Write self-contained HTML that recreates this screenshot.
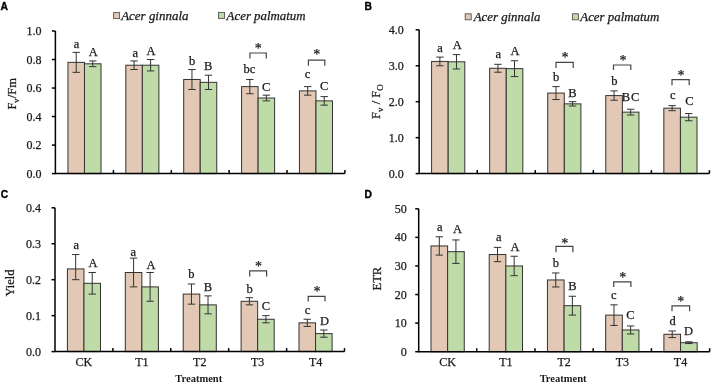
<!DOCTYPE html>
<html><head><meta charset="utf-8"><title>Chlorophyll fluorescence parameters</title>
<style>
html,body{margin:0;padding:0;background:#fff;}
body{width:712px;height:384px;overflow:hidden;}
svg{display:block;will-change:transform;}
text{font-family:"Liberation Serif", serif;fill:#1a1a1a;stroke:#1a1a1a;stroke-width:0.25px;}
.tk{font-size:12px;}
.lt{font-size:12.5px;}
.st{font-size:14px;}
.yl{font-size:12.5px;}
.sub{font-size:9px;}
.xl{font-size:10.5px;font-weight:bold;stroke-width:0;}
.lg{font-size:11.5px;font-style:italic;}
.pl{font-family:"Liberation Sans", sans-serif;font-weight:bold;font-size:10.3px;fill:#000;stroke:#000;stroke-width:0.35px;}
</style></head>
<body>
<svg width="712" height="384" viewBox="0 0 712 384">
<rect x="67.95" y="62.37" width="16.53" height="111.23" fill="#E2C8B5" stroke="#333" stroke-width="1"/>
<rect x="84.48" y="63.8" width="16.53" height="109.8" fill="#BEDBA8" stroke="#333" stroke-width="1"/>
<path d="M76.22 52.39V72.35M72.52 52.39H79.92M72.52 72.35H79.92" stroke="#333" stroke-width="1" fill="none"/>
<path d="M92.75 60.95V66.65M89.05 60.95H96.45M89.05 66.65H96.45" stroke="#333" stroke-width="1" fill="none"/>
<rect x="125.82" y="65.22" width="16.53" height="108.38" fill="#E2C8B5" stroke="#333" stroke-width="1"/>
<rect x="142.35" y="65.22" width="16.53" height="108.38" fill="#BEDBA8" stroke="#333" stroke-width="1"/>
<path d="M134.09 60.95V69.5M130.39 60.95H137.79M130.39 69.5H137.79" stroke="#333" stroke-width="1" fill="none"/>
<path d="M150.62 59.52V70.93M146.92 59.52H154.32M146.92 70.93H154.32" stroke="#333" stroke-width="1" fill="none"/>
<rect x="183.69" y="79.48" width="16.53" height="94.12" fill="#E2C8B5" stroke="#333" stroke-width="1"/>
<rect x="200.22" y="82.34" width="16.53" height="91.26" fill="#BEDBA8" stroke="#333" stroke-width="1"/>
<path d="M191.96 69.5V89.47M188.26 69.5H195.66M188.26 89.47H195.66" stroke="#333" stroke-width="1" fill="none"/>
<path d="M208.49 75.21V89.47M204.79 75.21H212.19M204.79 89.47H212.19" stroke="#333" stroke-width="1" fill="none"/>
<rect x="241.56" y="86.61" width="16.53" height="86.99" fill="#E2C8B5" stroke="#333" stroke-width="1"/>
<rect x="258.09" y="98.02" width="16.53" height="75.58" fill="#BEDBA8" stroke="#333" stroke-width="1"/>
<path d="M249.83 79.48V93.74M246.13 79.48H253.53M246.13 93.74H253.53" stroke="#333" stroke-width="1" fill="none"/>
<path d="M266.36 95.17V100.87M262.66 95.17H270.06M262.66 100.87H270.06" stroke="#333" stroke-width="1" fill="none"/>
<rect x="299.43" y="90.89" width="16.53" height="82.71" fill="#E2C8B5" stroke="#333" stroke-width="1"/>
<rect x="315.96" y="100.87" width="16.53" height="72.73" fill="#BEDBA8" stroke="#333" stroke-width="1"/>
<path d="M307.7 86.61V95.17M304 86.61H311.4M304 95.17H311.4" stroke="#333" stroke-width="1" fill="none"/>
<path d="M324.23 96.6V105.15M320.53 96.6H327.93M320.53 105.15H327.93" stroke="#333" stroke-width="1" fill="none"/>
<path d="M55.4 31V173.6H344.9" stroke="#000" stroke-width="1.5" fill="none"/>
<path d="M51.9 173.6H55.4" stroke="#000" stroke-width="1.5"/>
<text x="41.4" y="177.6" text-anchor="end" class="tk">0.0</text>
<path d="M51.9 145.08H55.4" stroke="#000" stroke-width="1.5"/>
<text x="41.4" y="149.08" text-anchor="end" class="tk">0.2</text>
<path d="M51.9 116.56H55.4" stroke="#000" stroke-width="1.5"/>
<text x="41.4" y="120.56" text-anchor="end" class="tk">0.4</text>
<path d="M51.9 88.04H55.4" stroke="#000" stroke-width="1.5"/>
<text x="41.4" y="92.04" text-anchor="end" class="tk">0.6</text>
<path d="M51.9 59.52H55.4" stroke="#000" stroke-width="1.5"/>
<text x="41.4" y="63.52" text-anchor="end" class="tk">0.8</text>
<path d="M51.9 31H55.4" stroke="#000" stroke-width="1.5"/>
<text x="41.4" y="35" text-anchor="end" class="tk">1.0</text>
<path d="M113.42 170.1V173.6" stroke="#000" stroke-width="1.5"/>
<path d="M171.29 170.1V173.6" stroke="#000" stroke-width="1.5"/>
<path d="M229.16 170.1V173.6" stroke="#000" stroke-width="1.5"/>
<path d="M287.03 170.1V173.6" stroke="#000" stroke-width="1.5"/>
<path d="M344.9 170.1V173.6" stroke="#000" stroke-width="1.5"/>
<text x="76.6" y="47.7" text-anchor="middle" class="lt">a</text>
<text x="93.35" y="55.5" text-anchor="middle" class="lt">A</text>
<text x="135.3" y="56.8" text-anchor="middle" class="lt">a</text>
<text x="151" y="54.8" text-anchor="middle" class="lt">A</text>
<text x="192.1" y="64.7" text-anchor="middle" class="lt">b</text>
<text x="208.2" y="69.9" text-anchor="middle" class="lt">B</text>
<text x="249.5" y="72.9" text-anchor="middle" class="lt">bc</text>
<text x="266.1" y="90.8" text-anchor="middle" class="lt">C</text>
<text x="307.6" y="78.4" text-anchor="middle" class="lt">c</text>
<text x="324.1" y="90.2" text-anchor="middle" class="lt">C</text>
<path d="M249.9 58.6V53H266.3V58.6" stroke="#444" stroke-width="1.2" fill="none"/>
<text x="258.3" y="52.5" text-anchor="middle" class="st">*</text>
<path d="M308.4 65.8V60.2H324.8V65.8" stroke="#444" stroke-width="1.2" fill="none"/>
<text x="316.8" y="59.3" text-anchor="middle" class="st">*</text>
<rect x="431.59" y="61.44" width="16.59" height="112.16" fill="#E2C8B5" stroke="#333" stroke-width="1"/>
<rect x="448.18" y="61.8" width="16.59" height="111.8" fill="#BEDBA8" stroke="#333" stroke-width="1"/>
<path d="M439.89 57.12V65.75M436.19 57.12H443.59M436.19 65.75H443.59" stroke="#333" stroke-width="1" fill="none"/>
<path d="M456.47 54.61V68.99M452.77 54.61H460.17M452.77 68.99H460.17" stroke="#333" stroke-width="1" fill="none"/>
<rect x="489.65" y="68.27" width="16.59" height="105.33" fill="#E2C8B5" stroke="#333" stroke-width="1"/>
<rect x="506.24" y="68.63" width="16.59" height="104.97" fill="#BEDBA8" stroke="#333" stroke-width="1"/>
<path d="M497.95 64.31V72.22M494.25 64.31H501.65M494.25 72.22H501.65" stroke="#333" stroke-width="1" fill="none"/>
<path d="M514.53 60.72V76.54M510.83 60.72H518.23M510.83 76.54H518.23" stroke="#333" stroke-width="1" fill="none"/>
<rect x="547.71" y="93.07" width="16.59" height="80.53" fill="#E2C8B5" stroke="#333" stroke-width="1"/>
<rect x="564.3" y="103.86" width="16.59" height="69.74" fill="#BEDBA8" stroke="#333" stroke-width="1"/>
<path d="M556.01 86.6V99.54M552.31 86.6H559.71M552.31 99.54H559.71" stroke="#333" stroke-width="1" fill="none"/>
<path d="M572.59 101.7V106.01M568.89 101.7H576.29M568.89 106.01H576.29" stroke="#333" stroke-width="1" fill="none"/>
<rect x="605.77" y="95.59" width="16.59" height="78.01" fill="#E2C8B5" stroke="#333" stroke-width="1"/>
<rect x="622.36" y="112.13" width="16.59" height="61.47" fill="#BEDBA8" stroke="#333" stroke-width="1"/>
<path d="M614.07 90.92V100.26M610.37 90.92H617.77M610.37 100.26H617.77" stroke="#333" stroke-width="1" fill="none"/>
<path d="M630.65 109.25V115M626.95 109.25H634.35M626.95 115H634.35" stroke="#333" stroke-width="1" fill="none"/>
<rect x="663.83" y="108.17" width="16.59" height="65.43" fill="#E2C8B5" stroke="#333" stroke-width="1"/>
<rect x="680.42" y="117.16" width="16.59" height="56.44" fill="#BEDBA8" stroke="#333" stroke-width="1"/>
<path d="M672.13 105.65V110.69M668.43 105.65H675.83M668.43 110.69H675.83" stroke="#333" stroke-width="1" fill="none"/>
<path d="M688.71 113.56V120.75M685.01 113.56H692.41M685.01 120.75H692.41" stroke="#333" stroke-width="1" fill="none"/>
<path d="M419.15 29.8V173.6H709.45" stroke="#000" stroke-width="1.5" fill="none"/>
<path d="M415.65 173.6H419.15" stroke="#000" stroke-width="1.5"/>
<text x="403.85" y="177.6" text-anchor="end" class="tk">0.0</text>
<path d="M415.65 137.65H419.15" stroke="#000" stroke-width="1.5"/>
<text x="403.85" y="141.65" text-anchor="end" class="tk">1.0</text>
<path d="M415.65 101.7H419.15" stroke="#000" stroke-width="1.5"/>
<text x="403.85" y="105.7" text-anchor="end" class="tk">2.0</text>
<path d="M415.65 65.75H419.15" stroke="#000" stroke-width="1.5"/>
<text x="403.85" y="69.75" text-anchor="end" class="tk">3.0</text>
<path d="M415.65 29.8H419.15" stroke="#000" stroke-width="1.5"/>
<text x="403.85" y="33.8" text-anchor="end" class="tk">4.0</text>
<path d="M477.21 170.1V173.6" stroke="#000" stroke-width="1.5"/>
<path d="M535.27 170.1V173.6" stroke="#000" stroke-width="1.5"/>
<path d="M593.33 170.1V173.6" stroke="#000" stroke-width="1.5"/>
<path d="M651.39 170.1V173.6" stroke="#000" stroke-width="1.5"/>
<path d="M709.45 170.1V173.6" stroke="#000" stroke-width="1.5"/>
<text x="440.1" y="51.6" text-anchor="middle" class="lt">a</text>
<text x="457.2" y="49" text-anchor="middle" class="lt">A</text>
<text x="498.3" y="57.8" text-anchor="middle" class="lt">a</text>
<text x="514.9" y="55.1" text-anchor="middle" class="lt">A</text>
<text x="556.1" y="81.1" text-anchor="middle" class="lt">b</text>
<text x="572.4" y="96.6" text-anchor="middle" class="lt">B</text>
<text x="614.4" y="84.7" text-anchor="middle" class="lt">b</text>
<text x="630.9" y="101.1" text-anchor="middle" class="lt" letter-spacing="0.8">BC</text>
<text x="672.8" y="98.7" text-anchor="middle" class="lt">c</text>
<text x="689.3" y="105.3" text-anchor="middle" class="lt">C</text>
<path d="M556 67.9V62.4H573.2V67.9" stroke="#444" stroke-width="1.2" fill="none"/>
<text x="564.9" y="62.3" text-anchor="middle" class="st">*</text>
<path d="M613.5 70V65H630.8V70" stroke="#444" stroke-width="1.2" fill="none"/>
<text x="622.9" y="64.9" text-anchor="middle" class="st">*</text>
<path d="M672 85.2V79.7H689.2V85.2" stroke="#444" stroke-width="1.2" fill="none"/>
<text x="681.1" y="80" text-anchor="middle" class="st">*</text>
<rect x="67.41" y="268.92" width="16.54" height="82.69" fill="#E2C8B5" stroke="#333" stroke-width="1"/>
<rect x="83.95" y="283.3" width="16.54" height="68.31" fill="#BEDBA8" stroke="#333" stroke-width="1"/>
<path d="M75.68 254.54V279.7M71.98 254.54H79.38M71.98 279.7H79.38" stroke="#333" stroke-width="1" fill="none"/>
<path d="M92.22 272.51V294.08M88.52 272.51H95.92M88.52 294.08H95.92" stroke="#333" stroke-width="1" fill="none"/>
<rect x="125.31" y="272.51" width="16.54" height="79.09" fill="#E2C8B5" stroke="#333" stroke-width="1"/>
<rect x="141.85" y="286.89" width="16.54" height="64.71" fill="#BEDBA8" stroke="#333" stroke-width="1"/>
<path d="M133.58 258.13V286.89M129.88 258.13H137.28M129.88 286.89H137.28" stroke="#333" stroke-width="1" fill="none"/>
<path d="M150.12 272.51V301.27M146.42 272.51H153.82M146.42 301.27H153.82" stroke="#333" stroke-width="1" fill="none"/>
<rect x="183.21" y="294.08" width="16.54" height="57.52" fill="#E2C8B5" stroke="#333" stroke-width="1"/>
<rect x="199.75" y="304.87" width="16.54" height="46.74" fill="#BEDBA8" stroke="#333" stroke-width="1"/>
<path d="M191.48 284.01V304.15M187.78 284.01H195.18M187.78 304.15H195.18" stroke="#333" stroke-width="1" fill="none"/>
<path d="M208.02 295.88V313.85M204.32 295.88H211.72M204.32 313.85H211.72" stroke="#333" stroke-width="1" fill="none"/>
<rect x="241.11" y="301.27" width="16.54" height="50.33" fill="#E2C8B5" stroke="#333" stroke-width="1"/>
<rect x="257.65" y="319.25" width="16.54" height="32.36" fill="#BEDBA8" stroke="#333" stroke-width="1"/>
<path d="M249.38 297.68V304.87M245.68 297.68H253.08M245.68 304.87H253.08" stroke="#333" stroke-width="1" fill="none"/>
<path d="M265.92 315.65V322.84M262.22 315.65H269.62M262.22 322.84H269.62" stroke="#333" stroke-width="1" fill="none"/>
<rect x="299.01" y="322.84" width="16.54" height="28.76" fill="#E2C8B5" stroke="#333" stroke-width="1"/>
<rect x="315.55" y="333.62" width="16.54" height="17.98" fill="#BEDBA8" stroke="#333" stroke-width="1"/>
<path d="M307.28 319.25V326.44M303.58 319.25H310.98M303.58 326.44H310.98" stroke="#333" stroke-width="1" fill="none"/>
<path d="M323.82 330.03V337.22M320.12 330.03H327.52M320.12 337.22H327.52" stroke="#333" stroke-width="1" fill="none"/>
<path d="M55 207.8V351.6H344.5" stroke="#000" stroke-width="1.5" fill="none"/>
<path d="M51.5 351.6H55" stroke="#000" stroke-width="1.5"/>
<text x="41" y="355.6" text-anchor="end" class="tk">0.0</text>
<path d="M51.5 315.65H55" stroke="#000" stroke-width="1.5"/>
<text x="41" y="319.65" text-anchor="end" class="tk">0.1</text>
<path d="M51.5 279.7H55" stroke="#000" stroke-width="1.5"/>
<text x="41" y="283.7" text-anchor="end" class="tk">0.2</text>
<path d="M51.5 243.75H55" stroke="#000" stroke-width="1.5"/>
<text x="41" y="247.75" text-anchor="end" class="tk">0.3</text>
<path d="M51.5 207.8H55" stroke="#000" stroke-width="1.5"/>
<text x="41" y="211.8" text-anchor="end" class="tk">0.4</text>
<path d="M112.9 348.1V351.6" stroke="#000" stroke-width="1.5"/>
<path d="M170.8 348.1V351.6" stroke="#000" stroke-width="1.5"/>
<path d="M228.7 348.1V351.6" stroke="#000" stroke-width="1.5"/>
<path d="M286.6 348.1V351.6" stroke="#000" stroke-width="1.5"/>
<path d="M344.5 348.1V351.6" stroke="#000" stroke-width="1.5"/>
<text x="76.2" y="249.2" text-anchor="middle" class="lt">a</text>
<text x="93.1" y="266.6" text-anchor="middle" class="lt">A</text>
<text x="133.3" y="255.6" text-anchor="middle" class="lt">a</text>
<text x="150.9" y="269.3" text-anchor="middle" class="lt">A</text>
<text x="191.4" y="277.8" text-anchor="middle" class="lt">b</text>
<text x="208" y="291.1" text-anchor="middle" class="lt">B</text>
<text x="249.5" y="292.5" text-anchor="middle" class="lt">b</text>
<text x="266" y="309.7" text-anchor="middle" class="lt">C</text>
<text x="307.6" y="313.8" text-anchor="middle" class="lt">c</text>
<text x="324.6" y="325.1" text-anchor="middle" class="lt">D</text>
<path d="M249.7 276.4V270.9H266.6V276.4" stroke="#444" stroke-width="1.2" fill="none"/>
<text x="258.4" y="270.9" text-anchor="middle" class="st">*</text>
<path d="M308.2 301.4V296.4H325V301.4" stroke="#444" stroke-width="1.2" fill="none"/>
<text x="316.9" y="295.8" text-anchor="middle" class="st">*</text>
<rect x="430.98" y="245.95" width="16.64" height="105.75" fill="#E2C8B5" stroke="#333" stroke-width="1"/>
<rect x="447.62" y="251.67" width="16.64" height="100.03" fill="#BEDBA8" stroke="#333" stroke-width="1"/>
<path d="M439.3 236.81V255.1M435.6 236.81H443M435.6 255.1H443" stroke="#333" stroke-width="1" fill="none"/>
<path d="M455.93 239.95V263.39M452.23 239.95H459.63M452.23 263.39H459.63" stroke="#333" stroke-width="1" fill="none"/>
<rect x="489.21" y="254.53" width="16.64" height="97.17" fill="#E2C8B5" stroke="#333" stroke-width="1"/>
<rect x="505.85" y="265.96" width="16.64" height="85.74" fill="#BEDBA8" stroke="#333" stroke-width="1"/>
<path d="M497.53 247.38V261.67M493.83 247.38H501.23M493.83 261.67H501.23" stroke="#333" stroke-width="1" fill="none"/>
<path d="M514.16 256.24V275.68M510.46 256.24H517.86M510.46 275.68H517.86" stroke="#333" stroke-width="1" fill="none"/>
<rect x="547.44" y="279.96" width="16.64" height="71.74" fill="#E2C8B5" stroke="#333" stroke-width="1"/>
<rect x="564.08" y="305.69" width="16.64" height="46.01" fill="#BEDBA8" stroke="#333" stroke-width="1"/>
<path d="M555.76 272.96V286.97M552.06 272.96H559.46M552.06 286.97H559.46" stroke="#333" stroke-width="1" fill="none"/>
<path d="M572.39 296.25V315.12M568.69 296.25H576.09M568.69 315.12H576.09" stroke="#333" stroke-width="1" fill="none"/>
<rect x="605.67" y="315.12" width="16.64" height="36.58" fill="#E2C8B5" stroke="#333" stroke-width="1"/>
<rect x="622.3" y="329.98" width="16.64" height="21.72" fill="#BEDBA8" stroke="#333" stroke-width="1"/>
<path d="M613.99 304.83V325.41M610.29 304.83H617.69M610.29 325.41H617.69" stroke="#333" stroke-width="1" fill="none"/>
<path d="M630.62 325.98V333.98M626.92 325.98H634.32M626.92 333.98H634.32" stroke="#333" stroke-width="1" fill="none"/>
<rect x="663.9" y="334.27" width="16.64" height="17.43" fill="#E2C8B5" stroke="#333" stroke-width="1"/>
<rect x="680.53" y="342.7" width="16.64" height="9" fill="#BEDBA8" stroke="#333" stroke-width="1"/>
<path d="M672.22 330.98V337.55M668.52 330.98H675.92M668.52 337.55H675.92" stroke="#333" stroke-width="1" fill="none"/>
<path d="M688.85 341.84V343.55M685.15 341.84H692.55M685.15 343.55H692.55" stroke="#333" stroke-width="1" fill="none"/>
<path d="M418.7 208.8V351.7H709.65" stroke="#000" stroke-width="1.5" fill="none"/>
<path d="M415.2 351.7H418.7" stroke="#000" stroke-width="1.5"/>
<text x="406.7" y="355.7" text-anchor="end" class="tk">0</text>
<path d="M415.2 323.12H418.7" stroke="#000" stroke-width="1.5"/>
<text x="406.7" y="327.12" text-anchor="end" class="tk">10</text>
<path d="M415.2 294.54H418.7" stroke="#000" stroke-width="1.5"/>
<text x="406.7" y="298.54" text-anchor="end" class="tk">20</text>
<path d="M415.2 265.96H418.7" stroke="#000" stroke-width="1.5"/>
<text x="406.7" y="269.96" text-anchor="end" class="tk">30</text>
<path d="M415.2 237.38H418.7" stroke="#000" stroke-width="1.5"/>
<text x="406.7" y="241.38" text-anchor="end" class="tk">40</text>
<path d="M415.2 208.8H418.7" stroke="#000" stroke-width="1.5"/>
<text x="406.7" y="212.8" text-anchor="end" class="tk">50</text>
<path d="M476.73 348.2V351.7" stroke="#000" stroke-width="1.5"/>
<path d="M534.96 348.2V351.7" stroke="#000" stroke-width="1.5"/>
<path d="M593.19 348.2V351.7" stroke="#000" stroke-width="1.5"/>
<path d="M651.42 348.2V351.7" stroke="#000" stroke-width="1.5"/>
<path d="M709.65 348.2V351.7" stroke="#000" stroke-width="1.5"/>
<text x="439.9" y="231.1" text-anchor="middle" class="lt">a</text>
<text x="457.4" y="233.3" text-anchor="middle" class="lt">A</text>
<text x="498.7" y="241" text-anchor="middle" class="lt">a</text>
<text x="514.9" y="250.5" text-anchor="middle" class="lt">A</text>
<text x="555.9" y="267" text-anchor="middle" class="lt">b</text>
<text x="572.5" y="290.4" text-anchor="middle" class="lt">B</text>
<text x="613.9" y="299.3" text-anchor="middle" class="lt">c</text>
<text x="630.5" y="319.3" text-anchor="middle" class="lt">C</text>
<text x="672.6" y="325" text-anchor="middle" class="lt">d</text>
<text x="688.5" y="335.2" text-anchor="middle" class="lt">D</text>
<path d="M556 252.3V246.4H572.9V252.3" stroke="#444" stroke-width="1.2" fill="none"/>
<text x="564.7" y="247.7" text-anchor="middle" class="st">*</text>
<path d="M613.7 287V281.8H630.9V287" stroke="#444" stroke-width="1.2" fill="none"/>
<text x="622.7" y="282.4" text-anchor="middle" class="st">*</text>
<path d="M672 311.3V305.8H689.6V311.3" stroke="#444" stroke-width="1.2" fill="none"/>
<text x="680.8" y="306.1" text-anchor="middle" class="st">*</text>
<text x="83.95" y="366" text-anchor="middle" class="tk">CK</text>
<text x="141.85" y="366" text-anchor="middle" class="tk">T1</text>
<text x="199.75" y="366" text-anchor="middle" class="tk">T2</text>
<text x="257.65" y="366" text-anchor="middle" class="tk">T3</text>
<text x="315.55" y="366" text-anchor="middle" class="tk">T4</text>
<text x="198.75" y="382" text-anchor="middle" class="xl">Treatment</text>
<text x="447.62" y="366" text-anchor="middle" class="tk">CK</text>
<text x="505.85" y="366" text-anchor="middle" class="tk">T1</text>
<text x="564.08" y="366" text-anchor="middle" class="tk">T2</text>
<text x="622.3" y="366" text-anchor="middle" class="tk">T3</text>
<text x="680.53" y="366" text-anchor="middle" class="tk">T4</text>
<text x="563.08" y="382" text-anchor="middle" class="xl">Treatment</text>
<text x="0.5" y="9.8" class="pl">A</text>
<text x="364.5" y="9.5" class="pl">B</text>
<text x="0.7" y="197.9" class="pl">C</text>
<text x="364.5" y="197.9" class="pl">D</text>
<rect x="113.6" y="12.6" width="6" height="6" fill="#E2C8B5" stroke="#555" stroke-width="0.9"/>
<text x="121.2" y="19.8" class="lg" textLength="67.3" lengthAdjust="spacingAndGlyphs">Acer ginnala</text>
<rect x="218.5" y="12.4" width="6" height="6" fill="#BEDBA8" stroke="#555" stroke-width="0.9"/>
<text x="226.6" y="19.8" class="lg" textLength="79" lengthAdjust="spacingAndGlyphs">Acer palmatum</text>
<rect x="465.2" y="13.8" width="6" height="6" fill="#E2C8B5" stroke="#555" stroke-width="0.9"/>
<text x="473.7" y="20.6" class="lg" textLength="66.7" lengthAdjust="spacingAndGlyphs">Acer ginnala</text>
<rect x="572.4" y="13.8" width="6" height="6" fill="#BEDBA8" stroke="#555" stroke-width="0.9"/>
<text x="580.3" y="20.6" class="lg" textLength="79" lengthAdjust="spacingAndGlyphs">Acer palmatum</text>
<text transform="translate(16 109.5) rotate(-90)" class="yl">F<tspan class="sub" style="font-size:8px" dx="-0.3" dy="3">v</tspan><tspan dx="0.6" dy="-3">/Fm</tspan></text>
<text transform="translate(380.3 118.9) rotate(-90)" class="yl">F<tspan class="sub" dy="3">v</tspan><tspan dy="-3"> / F</tspan><tspan class="sub" dy="3">O</tspan></text>
<text transform="translate(13.8 296.5) rotate(-90)" class="yl">Yield</text>
<text transform="translate(380.8 290.5) rotate(-90)" class="yl">ETR</text>
</svg>
</body></html>
